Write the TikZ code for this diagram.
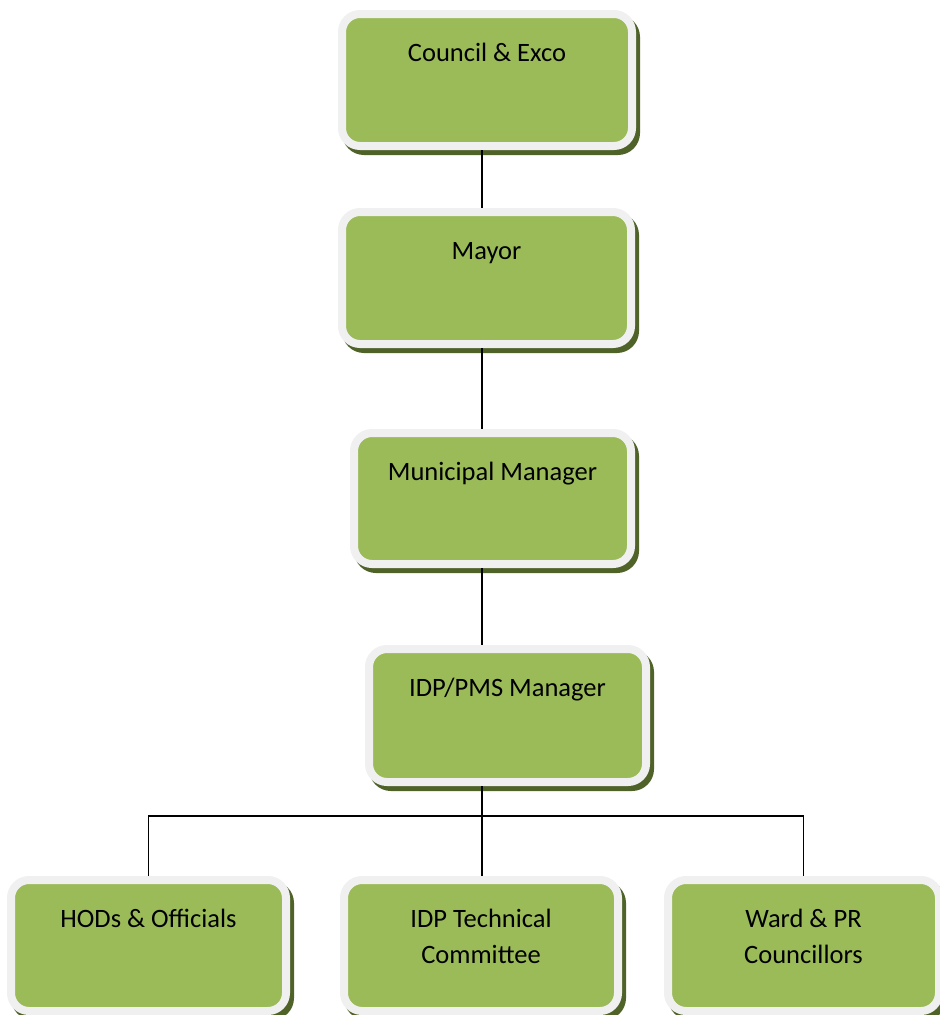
\documentclass[tikz,border=0pt]{standalone}
\usepackage{fontspec}
\setmainfont{Carlito}
\definecolor{boxgreen}{HTML}{9BBB59}
\definecolor{boxrim}{HTML}{F0F0F0}
\definecolor{boxshadow}{HTML}{4F6228}
\tikzset{
  orgbox/.style={rectangle, rounded corners=18pt, draw=boxrim, fill=boxgreen,
    line width=8pt, inner sep=0pt,
    preaction={draw=boxshadow, fill=boxshadow, line width=8pt,
      transform canvas={xshift=4pt,yshift=-5pt}}},
  boxtext/.style={anchor=north, yshift=-26pt, inner sep=0pt, align=center,
    font=\fontsize{26.5}{36}\selectfont, text=black},
  link/.style={draw=black, line width=1.7pt}
}
\begin{document}
\begin{tikzpicture}[x=1pt,y=1pt]
\useasboundingbox (0,0) rectangle (940,-1015);
\coordinate (spine) at (482,0);
\coordinate (bus) at (0,-816);
\node[orgbox, minimum width=290pt, minimum height=132pt,
  label={[boxtext]north:\strut Council \& Exco}] (council) at (487,-80) {};
\node[orgbox, minimum width=289pt, minimum height=132pt,
  label={[boxtext]north:\strut Mayor}] (mayor) at (486.5,-278) {};
\node[orgbox, minimum width=277pt, minimum height=131pt,
  label={[boxtext]north:\strut Municipal Manager}] (mm) at (492.5,-498.5) {};
\node[orgbox, minimum width=277pt, minimum height=133pt,
  label={[boxtext]north:\strut IDP/PMS Manager}] (idp) at (507.5,-715.5) {};
\node[orgbox, minimum width=275pt, minimum height=131pt,
  label={[boxtext]north:\strut HODs \& Officials}] (hods) at (148.5,-945.5) {};
\node[orgbox, minimum width=274pt, minimum height=131pt,
  label={[boxtext]north:\strut IDP Technical\\Committee}] (tech) at (481,-945.5) {};
\node[orgbox, minimum width=271pt, minimum height=131pt,
  label={[boxtext]north:\strut Ward \& PR\\Councillors}] (ward) at (803.5,-945.5) {};
\draw[link] (council.south -| spine) -- (mayor.north -| spine);
\draw[link] (mayor.south -| spine) -- (mm.north -| spine);
\draw[link] (mm.south -| spine) -- (idp.north -| spine);
\draw[link] (idp.south -| spine) -- (tech.north -| spine);
\draw[link] (hods.north) -- (hods.north |- bus) -- (ward.north |- bus) -- (ward.north);
\end{tikzpicture}
\end{document}
